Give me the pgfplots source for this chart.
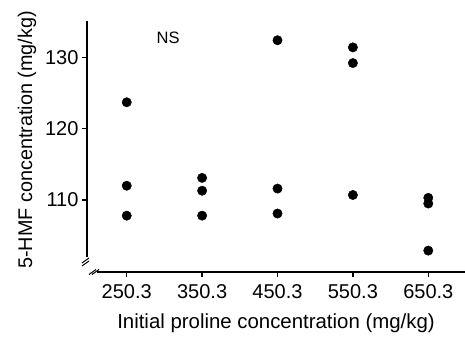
\documentclass[border=0pt]{standalone}
\usepackage{pgfplots}
\pgfplotsset{compat=1.18}
\usepackage{fontspec}
\setmainfont{Liberation Sans}
\begin{document}
\begin{tikzpicture}
\begin{axis}[
  scale only axis, width=378pt, height=251pt,
  xmin=-0.527, xmax=4.487, ymin=99.9, ymax=135.1,
  axis x line*=bottom, axis y line*=left,
  axis line style={draw=none},
  xtick={0,1,2,3,4},
  xticklabels={250.3,350.3,450.3,550.3,650.3},
  ytick={110,120,130},
  tick align=outside, major tick length=5pt,
  tick style={black, line width=1.3pt},
  tick label style={font=\fontsize{20}{24}\selectfont},
  xticklabel style={yshift=-4.5pt},
  label style={font=\fontsize{19.8}{23}\selectfont},
  /pgf/number format/assume math mode=true,
  xlabel={Initial proline concentration (mg/kg)},
  ylabel={5-HMF concentration (mg/kg)},
  xlabel style={at={(axis description cs:0.5,-0.227)}, anchor=base, font=\fontsize{20.4}{24}\selectfont},
  ylabel style={at={(axis description cs:-0.1455,0.526)}, anchor=base},
  clip=false,
]
\addplot[only marks, mark=*, mark size=4.7pt, black] coordinates {
  (0,123.7) (0,112.0) (0,107.8)
  (1,113.1) (1,111.3) (1,107.8)
  (2,132.4) (2,111.6) (2,108.1)
  (3,131.4) (3,129.2) (3,110.7)
  (4,110.3) (4,109.5) (4,102.9)
};
\node[font=\fontsize{16.5}{19}\selectfont] at (axis cs:0.55,132.8) {NS};
\coordinate (O) at (rel axis cs:0,0);
\end{axis}
\draw[line width=1.3pt, line cap=butt] ([shift={(0pt,15pt)}]O) -- ([shift={(0pt,251pt)}]O);
\draw[line width=1.3pt, line cap=butt] ([shift={(10pt,0pt)}]O) -- ([shift={(378pt,0pt)}]O);
\draw[line width=1pt] ([shift={(-5pt,6pt)}]O) -- ([shift={(2pt,11pt)}]O);
\draw[line width=1pt] ([shift={(-5pt,9pt)}]O) -- ([shift={(2pt,14pt)}]O);
\draw[line width=1pt] ([shift={(2pt,-2.5pt)}]O) -- ([shift={(9pt,2.5pt)}]O);
\draw[line width=1pt] ([shift={(5pt,-2.5pt)}]O) -- ([shift={(12pt,2.5pt)}]O);
\pgfresetboundingbox
\path[use as bounding box] ([shift={(-87pt,-67pt)}]O) rectangle ([shift={(378pt,272pt)}]O);
\end{tikzpicture}
\end{document}
